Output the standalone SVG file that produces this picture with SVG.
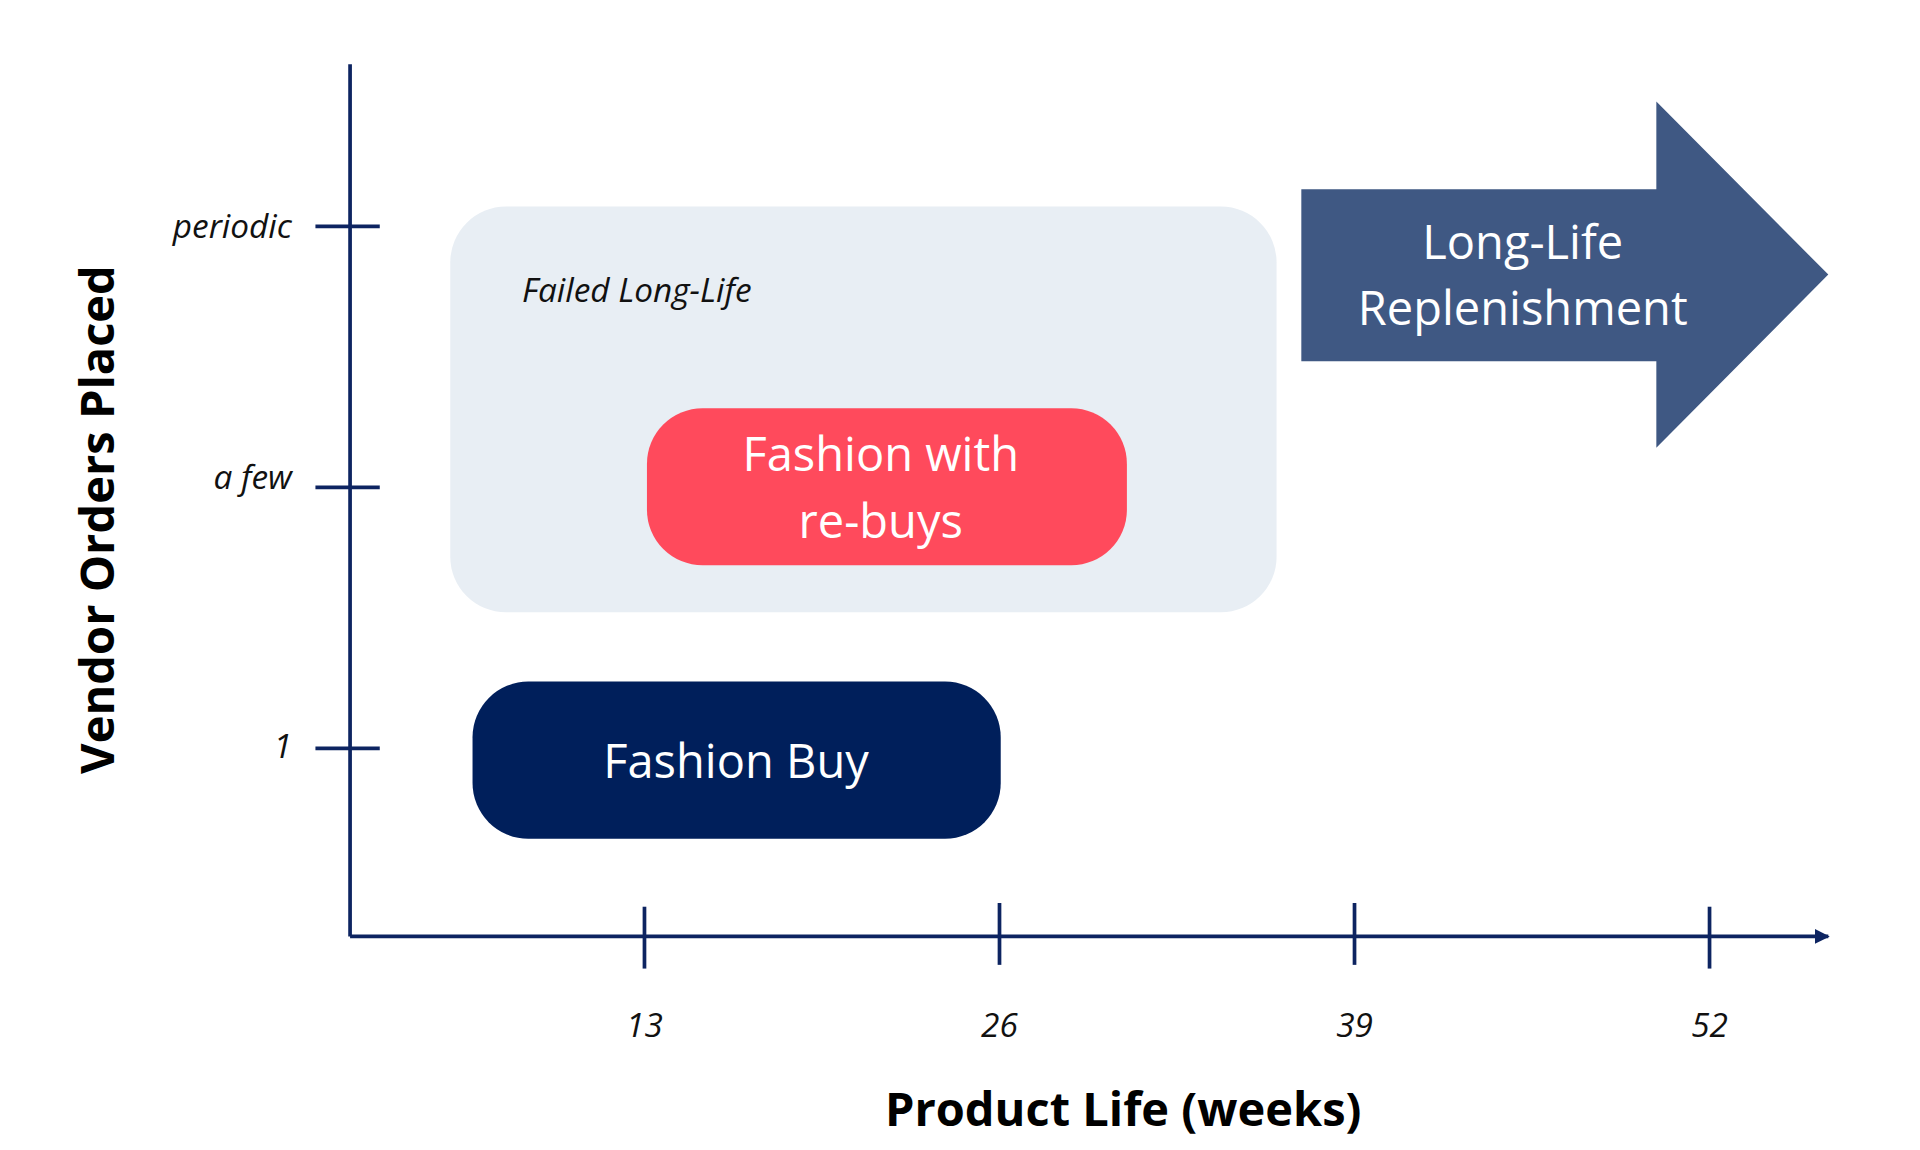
<svg xmlns="http://www.w3.org/2000/svg" width="1920" height="1150" viewBox="0 0 1920 1150">
<defs>
<style>
.ax{stroke:#0d2461;stroke-width:3;fill:none}
.lbl{font-family:"Open Sans","Liberation Sans",sans-serif;font-style:italic;font-size:27px;fill:#111}
.w{font-family:"Open Sans","Liberation Sans",sans-serif;font-size:38px;fill:#fff;text-anchor:middle}
.t{font-family:"Open Sans","Liberation Sans",sans-serif;font-weight:bold;font-size:38px;fill:#000;text-anchor:middle}
</style>
<marker id="ah" viewBox="0 0 10 10" refX="9" refY="5" markerWidth="4" markerHeight="4" orient="auto"><path d="M0,0L10,5L0,10z" fill="#0d2461"/></marker>
</defs>
<rect width="1920" height="1150" fill="#fff"/>
<g transform="scale(1.237)">
<g id="axes">
<line class="ax" x1="283" y1="52" x2="283" y2="757"/>
<line class="ax" x1="283" y1="757" x2="1478" y2="757" marker-end="url(#ah)"/>
<line class="ax" x1="255" y1="183" x2="307" y2="183"/>
<line class="ax" x1="255" y1="394" x2="307" y2="394"/>
<line class="ax" x1="255" y1="605" x2="307" y2="605"/>
<line class="ax" x1="521" y1="733" x2="521" y2="783"/>
<line class="ax" x1="808" y1="730" x2="808" y2="780"/>
<line class="ax" x1="1095" y1="730" x2="1095" y2="780"/>
<line class="ax" x1="1382" y1="733" x2="1382" y2="783"/>
<text class="lbl" x="236" y="192" text-anchor="end">periodic</text>
<text class="lbl" x="236" y="395" text-anchor="end">a few</text>
<text class="lbl" x="236" y="613" text-anchor="end">1</text>
<text class="lbl" x="521" y="838" text-anchor="middle">13</text>
<text class="lbl" x="808" y="838" text-anchor="middle">26</text>
<text class="lbl" x="1095" y="838" text-anchor="middle">39</text>
<text class="lbl" x="1382" y="838" text-anchor="middle">52</text>
<text class="t" x="908" y="910">Product Life (weeks)</text>
<text class="t" transform="translate(92,420) rotate(-90)">Vendor Orders Placed</text>
</g>
<g id="failed">
<rect x="364" y="167" width="668" height="328" rx="45" fill="#e8eef4"/>
<text class="lbl" x="422" y="244" font-size="34">Failed Long-Life</text>
</g>
<g id="rebuys">
<rect x="523" y="330" width="388" height="127" rx="45" fill="#ff4a5c"/>
<text class="w" x="712" y="381">Fashion with</text>
<text class="w" x="712" y="435">re-buys</text>
</g>
<g id="fashionbuy">
<rect x="382" y="551" width="427" height="127" rx="45" fill="#001f5b"/>
<text class="w" x="595" y="629">Fashion Buy</text>
</g>
<g id="longlife">
<path d="M1052,153H1339V82L1478,222L1339,362V292H1052z" fill="#3f5883"/>
<text class="w" x="1231" y="209">Long-Life</text>
<text class="w" x="1231" y="263">Replenishment</text>
</g>
</g>
</svg>
